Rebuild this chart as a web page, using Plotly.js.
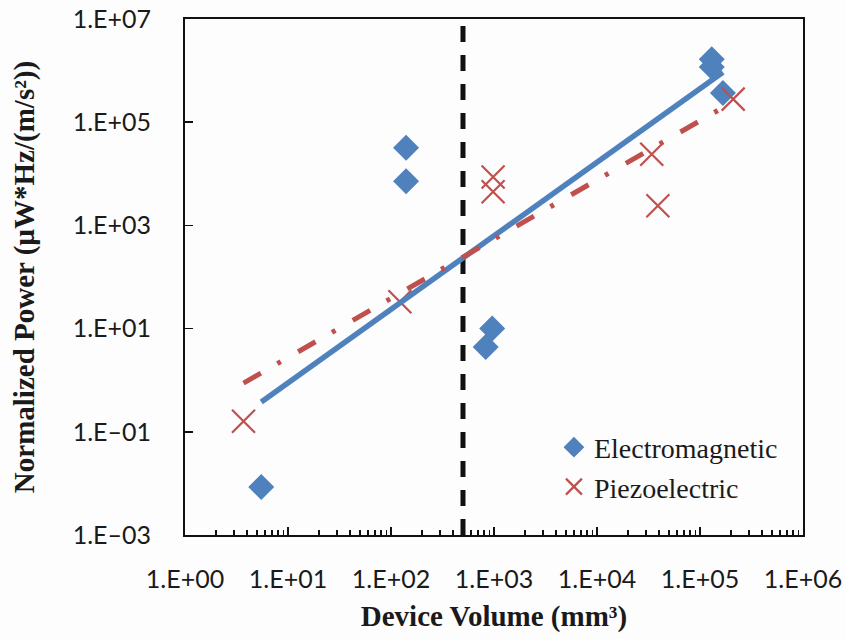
<!DOCTYPE html>
<html>
<head>
<meta charset="utf-8">
<script src="https://cdn.plot.ly/plotly-3.0.1.min.js"></script>
<style>html,body{margin:0;padding:0;background:#fdfdfd;}</style>
</head>
<body>
<div id="chart" style="width:846px;height:639px;"></div>
<script>
// ---- data ----
const emVolume = [5.5, 140, 140, 960, 830, 130000, 130000, 167000];
const emPower  = [0.0085, 32000, 7200, 10, 4.4, 1660000, 1170000, 370000];
const pzVolume = [3.7, 122, 980, 980, 34000, 39000, 210000];
const pzPower  = [0.16, 33, 8700, 4500, 24000, 2400, 280000];
const thresholdVolume = 500;
const xTickVals = [1, 10, 100, 1000, 10000, 100000, 1000000];
const xTickText = ['1.E+00', '1.E+01', '1.E+02', '1.E+03', '1.E+04', '1.E+05', '1.E+06'];
const yTickVals = [0.001, 0.1, 10, 1000, 100000, 10000000];
const yTickText = ['1.E\u201303', '1.E\u201301', '1.E+01', '1.E+03', '1.E+05', '1.E+07'];
const xRangeLog = [0, 6];
const yRangeLog = [-3, 7];

// power-law (log-log least squares) trendline, as Excel does
function powerFit(xs, ys) {
  const lx = xs.map(Math.log10), ly = ys.map(Math.log10);
  const n = lx.length;
  const mx = lx.reduce((a, b) => a + b, 0) / n;
  const my = ly.reduce((a, b) => a + b, 0) / n;
  let sxy = 0, sxx = 0;
  for (let i = 0; i < n; i++) { sxy += (lx[i] - mx) * (ly[i] - my); sxx += (lx[i] - mx) ** 2; }
  const b = sxy / sxx, a = my - b * mx;
  const x0 = Math.min(...lx), x1 = Math.max(...lx);
  const xsOut = [], ysOut = [];
  const steps = 40;
  for (let i = 0; i <= steps; i++) {
    const lxv = x0 + (x1 - x0) * i / steps;
    xsOut.push(Math.pow(10, lxv));
    ysOut.push(Math.pow(10, a + b * lxv));
  }
  return { x: xsOut, y: ysOut };
}

// minor tick positions (2..9 per decade)
const minorX = [];
for (let d = 0; d < 6; d++) for (let k = 2; k <= 9; k++) minorX.push(k * Math.pow(10, d));

const blue = '#4f81bd', red = '#c0504d';
const emFit = powerFit(emVolume, emPower);
const pzFit = powerFit(pzVolume, pzPower);

const traces = [
  { x: [thresholdVolume, thresholdVolume], y: [Math.pow(10, yRangeLog[0]), Math.pow(10, yRangeLog[1])],
    mode: 'lines', line: { color: '#111111', width: 5, dash: '16px,13px' }, showlegend: false, hoverinfo: 'skip' },
  { x: emVolume, y: emPower, mode: 'markers', name: 'Electromagnetic',
    marker: { symbol: 'diamond', size: 20, color: blue, line: { width: 0 } } },
  { x: pzVolume, y: pzPower, mode: 'markers', name: 'Piezoelectric',
    marker: { symbol: 'x-thin', size: 23, color: red, line: { width: 2.2, color: red } } },
  { x: emFit.x, y: emFit.y, mode: 'lines', line: { color: blue, width: 5.5 }, showlegend: false, hoverinfo: 'skip' },
  { x: pzFit.x, y: pzFit.y, mode: 'lines', line: { color: red, width: 5, dash: '20px,19px,4px,20px' }, showlegend: false, hoverinfo: 'skip' }
];

const tickFont = { family: 'Lato, sans-serif', size: 25, color: '#1a1a1a' };
const titleFont = { family: '"Liberation Serif", "Times New Roman", serif', size: 29, color: '#1a1a1a', weight: 'bold' };

const layout = {
  width: 846, height: 639,
  margin: { l: 185, r: 43, t: 19, b: 104 },
  paper_bgcolor: '#fdfdfd', plot_bgcolor: '#fdfdfd',
  showlegend: true,
  legend: {
    x: 0.597, y: 0.218, xanchor: 'left', yanchor: 'top',
    bgcolor: 'rgba(0,0,0,0)',
    font: { family: '"Liberation Serif", "Times New Roman", serif', size: 28, color: '#1a1a1a' },
    itemwidth: 30, tracegroupgap: 0
  },
  xaxis: {
    type: 'log', range: xRangeLog, autorange: false,
    tickmode: 'array', tickvals: xTickVals, ticktext: xTickText,
    ticks: 'inside', ticklen: 8, tickwidth: 1.5, tickcolor: '#111',
    minor: { tickmode: 'array', tickvals: minorX, ticks: 'inside', ticklen: 5, tickwidth: 1.5, tickcolor: '#111', showgrid: false },
    showline: true, linecolor: '#111', linewidth: 2, mirror: true,
    showgrid: false, zeroline: false,
    tickfont: tickFont, ticklabelstandoff: 21,
    title: { text: 'Device Volume (mm³)', font: titleFont, standoff: 14 }
  },
  yaxis: {
    type: 'log', range: yRangeLog, autorange: false,
    tickmode: 'array', tickvals: yTickVals, ticktext: yTickText,
    ticks: 'inside', ticklen: 8, tickwidth: 1.5, tickcolor: '#111',
    showline: true, linecolor: '#111', linewidth: 2, mirror: true,
    showgrid: false, zeroline: false,
    tickfont: tickFont, ticklabelstandoff: 27,
    title: { text: 'Normalized Power (µW*Hz/(m/s²))', font: titleFont, standoff: 30 }
  }
};

Plotly.newPlot('chart', traces, layout, { displayModeBar: false, staticPlot: true });
</script>
</body>
</html>
